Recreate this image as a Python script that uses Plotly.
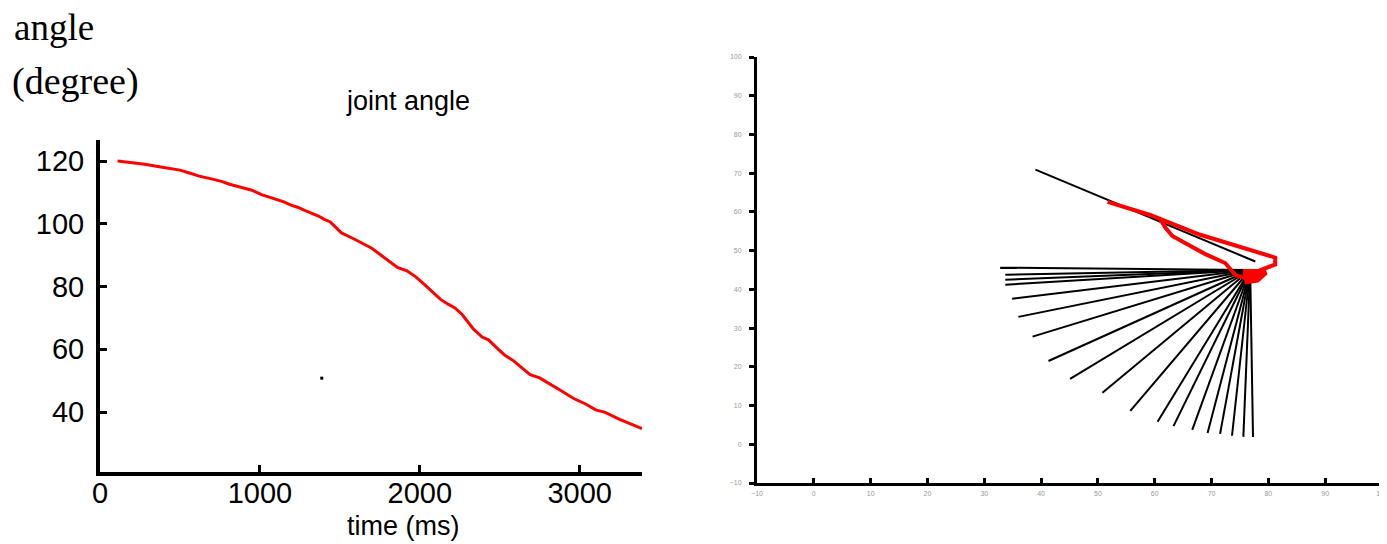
import plotly.graph_objects as go

# ---- left panel: joint angle vs time ----
time_ms = [110, 280, 380, 500, 560, 620, 690, 760, 810, 880, 950, 1010, 1100, 1150, 1190,
           1240, 1280, 1320, 1370, 1400, 1440, 1480, 1510, 1580, 1620, 1660, 1700, 1750,
           1800, 1860, 1920, 1975, 2030, 2075, 2130, 2180, 2220, 2265, 2300, 2335, 2390,
           2430, 2485, 2530, 2585, 2640, 2690, 2750, 2830, 2900, 2960, 3040, 3100, 3160,
           3250, 3310, 3390]
angle_deg = [120, 119, 118.1, 117.1, 116.2, 115.2, 114.4, 113.5, 112.6, 111.6, 110.7, 109.3,
             107.9, 107, 106, 105.2, 104.3, 103.5, 102.4, 101.5, 100.6, 98.6, 97.1, 95.4,
             94.3, 93.2, 92.2, 90.3, 88.4, 86.1, 85, 83.1, 80.6, 78.6, 75.9, 74.3, 73.2,
             71.1, 68.8, 66.5, 63.9, 63, 60.3, 58.2, 56.4, 53.9, 51.9, 50.9, 48.3, 46.3,
             44.4, 42.5, 40.7, 39.9, 37.7, 36.4, 34.7]
stray_t = [1387]
stray_a = [50.8]
left_xticks = [0, 1000, 2000, 3000]
left_xlabels = ["0", "1000", "2000", "3000"]
left_yticks = [40, 60, 80, 100, 120]

# ---- right panel: stick figure ----
pivot_x = 76.8
pivot_y = 45.0
fan_end_x = [32.8, 33.7, 33.7, 33.7, 34.9, 36.0, 38.5, 41.3, 45.1, 50.8, 55.7, 60.5, 63.3,
             66.6, 69.3, 71.5, 73.6, 75.6, 77.3]
fan_end_y = [45.6, 43.8, 42.5, 41.2, 37.6, 32.9, 27.8, 21.5, 16.9, 13.3, 8.6, 5.8, 4.7,
             3.7, 2.9, 2.7, 2.2, 1.9, 1.9]
upper_x = [39.0, 77.7]
upper_y = [70.9, 47.2]
red_x = [51.7, 59.2, 68.0, 75.1, 81.2, 81.2, 78.6, 75.9, 74.2, 72.4, 68.9, 66.3, 63.1, 61.9, 61.0]
red_y = [62.6, 59.2, 54.1, 50.8, 48.2, 46.4, 45.0, 42.9, 43.7, 46.8, 49.1, 51.2, 53.8, 55.9, 58.0]
blob_x = [75.5, 79.5, 78.0, 75.8]
blob_y = [44.5, 44.5, 42.5, 42.0]
right_ticks = [-10, 0, 10, 20, 30, 40, 50, 60, 70, 80, 90, 100]

W, H = 1387, 544
OFF = 8  # page body margin compensation
SANS = "Liberation Sans, Arial, Helvetica, sans-serif"
SERIF = "Liberation Serif, Times New Roman, DejaVu Serif, serif"


def px(v):
    return (v - OFF) / W


def py(v):
    return 1 - (v - OFF) / H


fig = go.Figure()

fig.add_trace(go.Scatter(x=time_ms, y=angle_deg, mode="lines",
                         line=dict(color="#ff0000", width=3), xaxis="x", yaxis="y",
                         showlegend=False, hoverinfo="skip"))
fig.add_trace(go.Scatter(x=stray_t, y=stray_a, mode="markers",
                         marker=dict(color="black", size=3, symbol="square"),
                         xaxis="x", yaxis="y", showlegend=False, hoverinfo="skip"))

fx, fy = [], []
for ex, ey in zip(fan_end_x, fan_end_y):
    fx += [pivot_x, ex, None]
    fy += [pivot_y, ey, None]
fig.add_trace(go.Scatter(x=fx, y=fy, mode="lines", line=dict(color="black", width=2),
                         xaxis="x2", yaxis="y2", showlegend=False, hoverinfo="skip"))
fig.add_trace(go.Scatter(x=upper_x, y=upper_y, mode="lines", line=dict(color="black", width=2),
                         xaxis="x2", yaxis="y2", showlegend=False, hoverinfo="skip"))
fig.add_trace(go.Scatter(x=red_x, y=red_y, mode="lines", line=dict(color="#ff0000", width=4),
                         xaxis="x2", yaxis="y2", showlegend=False, hoverinfo="skip"))
fig.add_trace(go.Scatter(x=blob_x, y=blob_y, mode="lines", fill="toself", fillcolor="#ff0000",
                         line=dict(color="#ff0000", width=6),
                         xaxis="x2", yaxis="y2", showlegend=False, hoverinfo="skip"))

fig.update_layout(
    width=W, height=H,
    margin=dict(l=0, r=0, t=0, b=0, pad=0, autoexpand=False),
    paper_bgcolor="white", plot_bgcolor="white",
    xaxis=dict(domain=[px(100), px(642)], range=[0, 3390], showgrid=False, zeroline=False,
               automargin=False,
               showline=True, linecolor="black", linewidth=4,
               ticks="inside", ticklen=7, tickwidth=3, tickcolor="black",
               tickvals=left_xticks, ticktext=left_xlabels,
               tickfont=dict(family=SANS, size=29, color="black"), ticklabelstandoff=-8),
    yaxis=dict(domain=[py(472), py(140)], range=[20.9, 126.7], showgrid=False,
               zeroline=False, automargin=False, showline=True, linecolor="black", linewidth=4,
               ticks="inside", ticklen=7, tickwidth=3, tickcolor="black",
               tickvals=left_yticks,
               tickfont=dict(family=SANS, size=29, color="black"), ticklabelstandoff=6),
    xaxis2=dict(domain=[px(757), px(1382)], range=[-10, 100], anchor="y2", showgrid=False,
                zeroline=False, automargin=False, showline=True, linecolor="black", linewidth=3,
                ticks="inside", ticklen=5, tickwidth=3, tickcolor="black",
                tickvals=right_ticks,
                tickfont=dict(family=SANS, size=7, color="#999999"), ticklabelstandoff=2),
    yaxis2=dict(domain=[py(483), py(57)], range=[-10, 100], anchor="x2", showgrid=False,
                zeroline=False, automargin=False, showline=True, linecolor="black", linewidth=3,
                ticks="outside", ticklen=5, tickwidth=3, tickcolor="black",
                tickvals=right_ticks,
                tickfont=dict(family=SANS, size=7, color="#999999"), ticklabelstandoff=6),
    annotations=[
        dict(text="angle", x=px(12), y=py(28), xref="paper", yref="paper",
             xanchor="left", yanchor="middle", showarrow=False,
             font=dict(family=SERIF, size=37, color="black")),
        dict(text="(degree)", x=px(10), y=py(82), xref="paper", yref="paper",
             xanchor="left", yanchor="middle", showarrow=False,
             font=dict(family=SERIF, size=38, color="black")),
        dict(text="joint angle", x=px(408), y=py(101), xref="paper", yref="paper",
             xanchor="center", yanchor="middle", showarrow=False,
             font=dict(family=SANS, size=27, color="black")),
        dict(text="time (ms)", x=px(403), y=py(526), xref="paper", yref="paper",
             xanchor="center", yanchor="middle", showarrow=False,
             font=dict(family=SANS, size=27, color="black")),
    ],
)

fig.write_html("out.html")
